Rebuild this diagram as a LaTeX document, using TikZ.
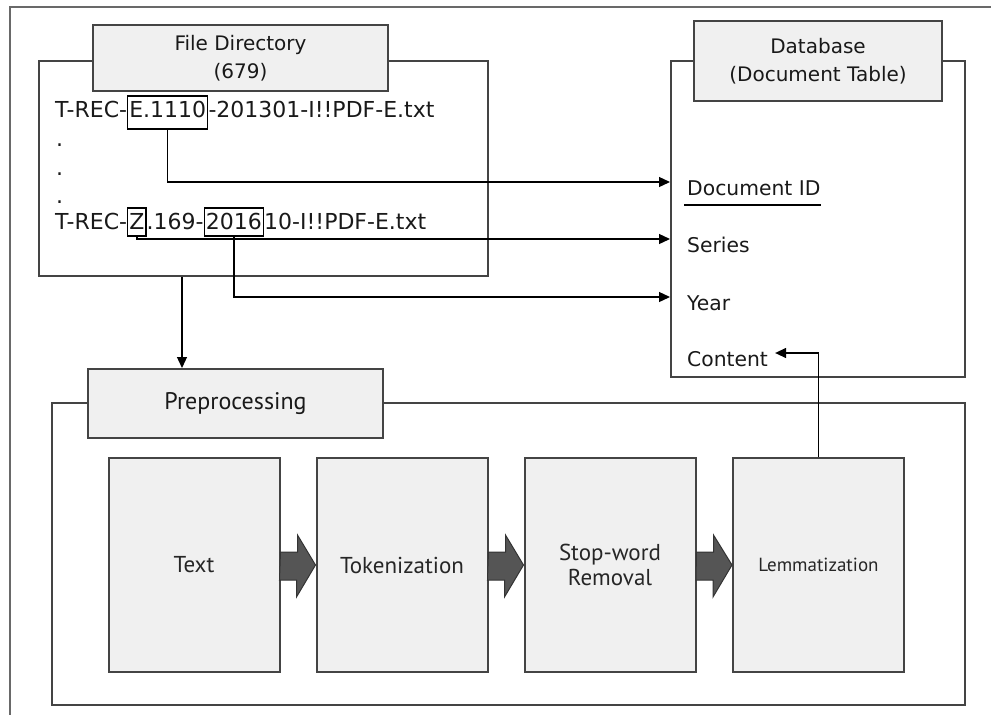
\documentclass[tikz,border=0pt]{standalone}
\usepackage{fontspec}
\setmainfont{DejaVu Sans}
\newfontfamily\stepfont{PT Sans}
\usetikzlibrary{arrows.meta, positioning}
\definecolor{boxgray}{RGB}{240,240,240}
\definecolor{edgegray}{RGB}{68,68,68}
\definecolor{arrowgray}{RGB}{85,85,85}

\begin{document}
\begin{tikzpicture}[x=1pt, y=-1pt,
  frame/.style={draw=edgegray!80, line width=1.6pt},
  outer/.style={draw=edgegray, line width=2pt, inner sep=0pt},
  head/.style={draw=edgegray, fill=boxgray, line width=2pt, align=center, text=black!90, font=\fontsize{20}{28}\selectfont},
  fname/.style={inner sep=0pt, anchor=base west, text=black!90, font=\fontsize{22}{26}\selectfont},
  hl/.style={draw=black, line width=1.2pt, inner xsep=1.5pt, inner ysep=3pt, text height=18pt, text depth=4pt, anchor=base west, text=black!90, font=\fontsize{22}{26}\selectfont},
  field/.style={inner sep=0pt, anchor=base west, text=black!90, font=\fontsize{20.3}{24}\selectfont},
  stepbox/.style={draw=edgegray, fill=boxgray, line width=2pt, minimum width=171pt, minimum height=214pt, align=center, text=black!85, font=\stepfont\fontsize{23}{25}\selectfont},
  conn/.style={draw=black, line width=1.3pt, -{Triangle[length=11pt, width=10pt]}},
  blockarr/.style={fill=arrowgray, draw=black!80, line width=1pt}
]
  \useasboundingbox (0,0) rectangle (991,715);
  \draw[frame] (10,715) -- (10,7) -- (991,7);

  \node[outer, minimum width=449pt, minimum height=215pt] (fdir) at (263.5,168.5) {};
  \node[outer, minimum width=294pt, minimum height=316pt] (db) at (818,219) {};
  \node[outer, minimum width=913pt, minimum height=302pt] (pre) at (508.5,554) {};

  \node[head, minimum width=295pt, minimum height=66pt] (fdirhead) at (240.5,58) {File Directory\\(679)};
  \node[head, minimum width=248pt, minimum height=80pt] (dbhead) at (818,61) {Database\\(Document Table)};
  \node[head, minimum width=295pt, minimum height=69pt, font=\stepfont\fontsize{24}{26}\selectfont] (prehead) at (235.5,403.5) {Preprocessing};

  \node[fname] (f1a) at (55,117) {T-REC-};
  \node[hl, text depth=9pt] (e1110) at (f1a.base east) {E.1110};
  \node[fname] (f1c) at (e1110.base east) {-201301-I!!PDF-E.txt};
  \foreach \y [count=\i] in {146,175,203}
    \node[fname] (dot\i) at (56,\y) {.};
  \node[fname] (f2a) at (55,229) {T-REC-};
  \node[hl] (zser) at (f2a.base east) {Z};
  \node[fname] (f2c) at (zser.base east) {.169-};
  \node[hl] (y2016) at (f2c.base east) {2016};
  \node[fname] (f2e) at (y2016.base east) {10-I!!PDF-E.txt};

  \node[field] (docid) at (687,195) {Document ID};
  \node[field] (series) at (687,252) {Series};
  \node[field] (year) at (687,310) {Year};
  \node[field] (content) at (687,366) {Content};
  \draw[line width=1.3pt] ([xshift=-3pt,yshift=-10pt]docid.base west) -- ([yshift=-10pt]docid.base east);

  \node[stepbox] (rawtext) at (194,565) {Text};
  \node[stepbox] (token) at (402,565) {Tokenization};
  \node[stepbox] (stop) at (610,565) {Stop-word\\Removal};
  \node[stepbox, font=\stepfont\fontsize{19}{22}\selectfont] (lemma) at (818.5,565) {Lemmatization};

  \foreach \a/\b in {rawtext/token, token/stop, stop/lemma}
    \draw[blockarr] (\a.east) ++(0,-13) -- ++(17,0) -- ++(0,-17) -- (\b.west) -- ++(-19,32) -- ++(0,-17) -- ++(-17,0) -- cycle;

  \coordinate (dropx) at (182,300);
  \draw[conn] (fdir.south -| dropx) -- (prehead.north -| dropx);
  \draw[conn] (e1110.south) |- ([yshift=13pt]docid.base west -| db.west);
  \draw[conn] (zser.south) |- ([yshift=13pt]series.base west -| db.west);
  \draw[conn] (y2016.south) |- ([yshift=13pt]year.base west -| db.west);
  \draw[conn] (lemma.north) |- ([xshift=7pt,yshift=13pt]content.base east);
\end{tikzpicture}
\end{document}
